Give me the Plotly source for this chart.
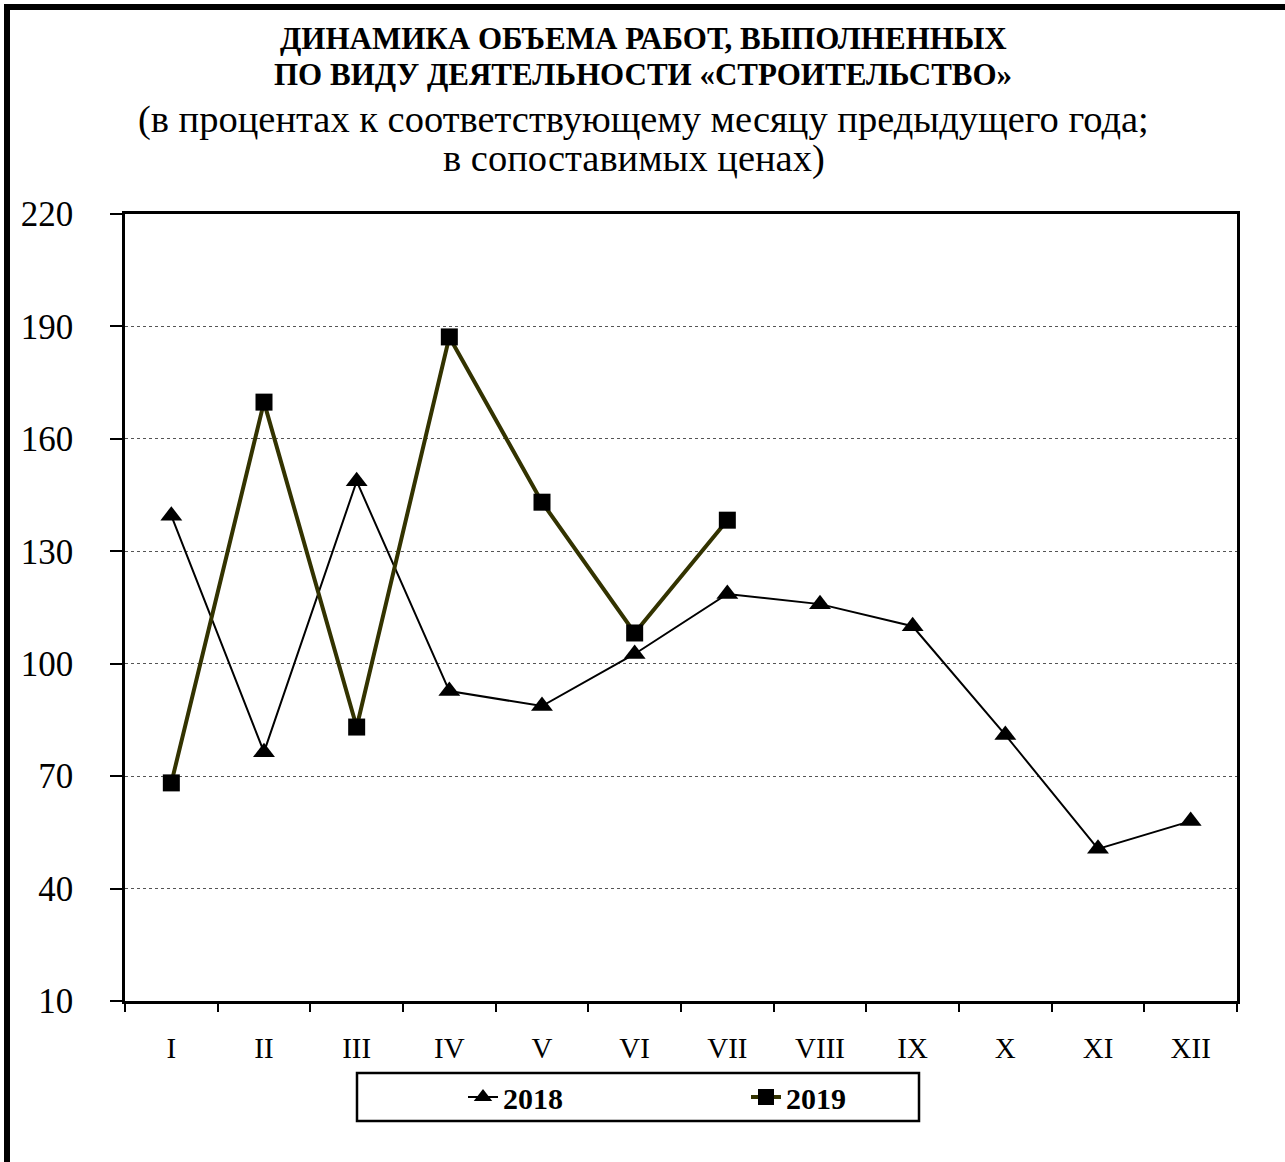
import plotly.graph_objects as go

months = ["I", "II", "III", "IV", "V", "VI", "VII", "VIII", "IX", "X", "XI", "XII"]
values_2018 = [139.5, 76.4, 148.7, 92.7, 88.7, 102.6, 118.6, 115.9, 110.0, 81.0, 50.6, 58.0]
months_2019 = ["I", "II", "III", "IV", "V", "VI", "VII"]
values_2019 = [68.2, 169.8, 83.1, 187.2, 143.1, 108.2, 138.3]
y_ticks = [10, 40, 70, 100, 130, 160, 190, 220]
series_names = ["2018", "2019"]

FONT = "Liberation Serif"
W, H = 1285, 1162
L, R, T, B = 125, 1237, 214, 1001
PW, PH = R - L, B - T


def px_x(x):
    return (x - L) / PW


def px_y(y):
    return (B - y) / PH


fig = go.Figure()
fig.add_trace(go.Scatter(
    x=months, y=values_2018, name="<b>" + series_names[0] + "</b>", mode="lines+markers",
    line=dict(color="black", width=2),
    marker=dict(symbol="triangle-up", size=19, color="black"),
))
fig.add_trace(go.Scatter(
    x=months_2019, y=values_2019, name="<b>" + series_names[1] + "</b>", mode="lines+markers",
    line=dict(color="#333300", width=4),
    marker=dict(symbol="square", size=17, color="black"),
))

fig.update_layout(
    width=W, height=H,
    margin=dict(l=L, r=W - R, t=T, b=H - B),
    paper_bgcolor="white", plot_bgcolor="white",
    font=dict(family=FONT, color="black", size=29),
    showlegend=True,
    legend=dict(
        orientation="h", x=px_x(463), xanchor="left",
        y=px_y(1097), yanchor="middle",
        font=dict(family=FONT, size=30, color="black"),
        entrywidth=238, entrywidthmode="pixels",
        bgcolor="rgba(0,0,0,0)", borderwidth=0,
    ),
    xaxis=dict(
        type="category", categoryorder="array", categoryarray=months,
        range=[-0.5, 11.5], showgrid=False,
        showline=True, linecolor="black", linewidth=2.5, mirror=True,
        ticks="outside", ticklen=8, tickwidth=2, tickcolor="black",
        tickson="boundaries", ticklabelstandoff=19,
        tickfont=dict(family=FONT, size=29, color="black"),
    ),
    yaxis=dict(
        range=[10, 220], tickvals=y_ticks,
        showgrid=True, gridcolor="#555555", gridwidth=1, griddash="dot",
        showline=True, linecolor="black", linewidth=2.5, mirror=True,
        ticks="outside", ticklen=12, tickwidth=2, tickcolor="black",
        ticklabelstandoff=30,
        tickfont=dict(family=FONT, size=35, color="black"),
        zeroline=False,
    ),
)

# titles
fig.add_annotation(text="<b>ДИНАМИКА ОБЪЕМА РАБОТ, ВЫПОЛНЕННЫХ</b>",
                   xref="paper", yref="paper", x=px_x(643), y=px_y(38),
                   showarrow=False, font=dict(family=FONT, size=31),
                   xanchor="center", yanchor="middle")
fig.add_annotation(text="<b>ПО ВИДУ ДЕЯТЕЛЬНОСТИ «СТРОИТЕЛЬСТВО»</b>",
                   xref="paper", yref="paper", x=px_x(643), y=px_y(75),
                   showarrow=False, font=dict(family=FONT, size=31),
                   xanchor="center", yanchor="middle")
fig.add_annotation(text="(в процентах к соответствующему месяцу предыдущего года;",
                   xref="paper", yref="paper", x=px_x(643), y=px_y(120),
                   showarrow=False, font=dict(family=FONT, size=38.5),
                   xanchor="center", yanchor="middle")
fig.add_annotation(text="в сопоставимых ценах)",
                   xref="paper", yref="paper", x=px_x(634), y=px_y(158),
                   showarrow=False, font=dict(family=FONT, size=38.5),
                   xanchor="center", yanchor="middle")

# legend box
fig.add_shape(type="rect", xref="paper", yref="paper",
              x0=px_x(357), x1=px_x(919), y0=px_y(1121), y1=px_y(1073),
              line=dict(color="black", width=2.5), fillcolor="rgba(0,0,0,0)")
# outer frame (left and top visible)
fig.add_shape(type="rect", xref="paper", yref="paper",
              x0=px_x(7), x1=px_x(1400), y0=px_y(1300), y1=px_y(7),
              line=dict(color="black", width=6), fillcolor="rgba(0,0,0,0)")

fig.write_html("out.html", config={"displayModeBar": False},
               post_script="document.body.style.margin='0';")
